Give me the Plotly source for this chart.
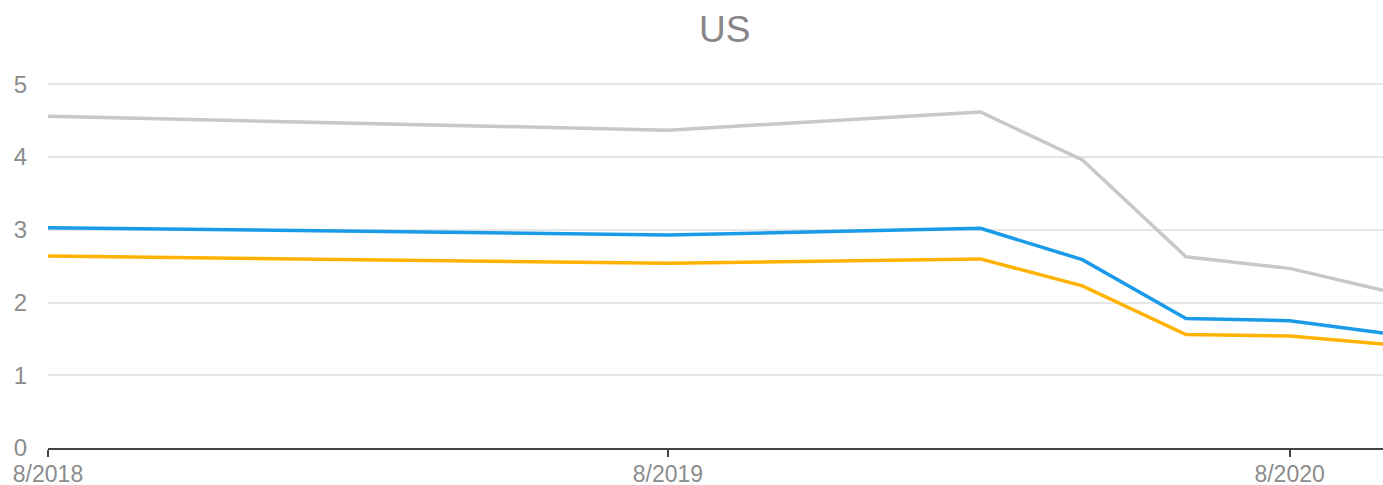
import plotly.graph_objects as go

dates = ["2018-08-01", "2019-08-01", "2020-02-01", "2020-04-01", "2020-06-01", "2020-08-01", "2020-09-25"]
gray_vals = [4.56, 4.37, 4.62, 3.96, 2.63, 2.47, 2.17]
blue_vals = [3.03, 2.93, 3.02, 2.59, 1.78, 1.75, 1.58]
yellow_vals = [2.64, 2.54, 2.60, 2.23, 1.56, 1.54, 1.43]

tick_vals = ["2018-08-01", "2019-08-01", "2020-08-01"]
tick_text = ["8/2018", "8/2019", "8/2020"]
y_ticks = [0, 1, 2, 3, 4, 5]

fig = go.Figure()
for vals, color in [(gray_vals, "#c8c8c8"), (blue_vals, "#1a9be8"), (yellow_vals, "#ffb300")]:
    fig.add_trace(go.Scatter(x=dates, y=vals, mode="lines",
                             line=dict(color=color, width=3.5), showlegend=False))

fig.update_layout(
    width=1383, height=485,
    margin=dict(l=48, r=0, t=48, b=37),
    paper_bgcolor="white", plot_bgcolor="white",
    font=dict(family="Liberation Sans, Arial, sans-serif", color="#8c8c8c", size=24),
    title=dict(text="US", x=0.524, xanchor="center", y=0.941, yanchor="middle",
               font=dict(size=37, color="#898589")),
    xaxis=dict(type="date", range=["2018-08-01", "2020-09-25"],
               tickvals=tick_vals, ticktext=tick_text,
               showgrid=False, zeroline=False, automargin=False,
               showline=True, linecolor="#444444", linewidth=2,
               ticks="outside", ticklen=7, tickwidth=2, tickcolor="#444444",
               ticklabelstandoff=-3,
               tickfont=dict(size=23, color="#8c8c8c")),
    yaxis=dict(range=[0, 5.5], tickvals=y_ticks,
               showgrid=True, gridcolor="#e6e6e6", gridwidth=2,
               zeroline=False, showline=False, automargin=False,
               ticklabelstandoff=20,
               tickfont=dict(size=24, color="#8c8c8c")),
)

fig.write_html("out.html", config={"displayModeBar": False},
               post_script="document.body.style.margin='0px';")
